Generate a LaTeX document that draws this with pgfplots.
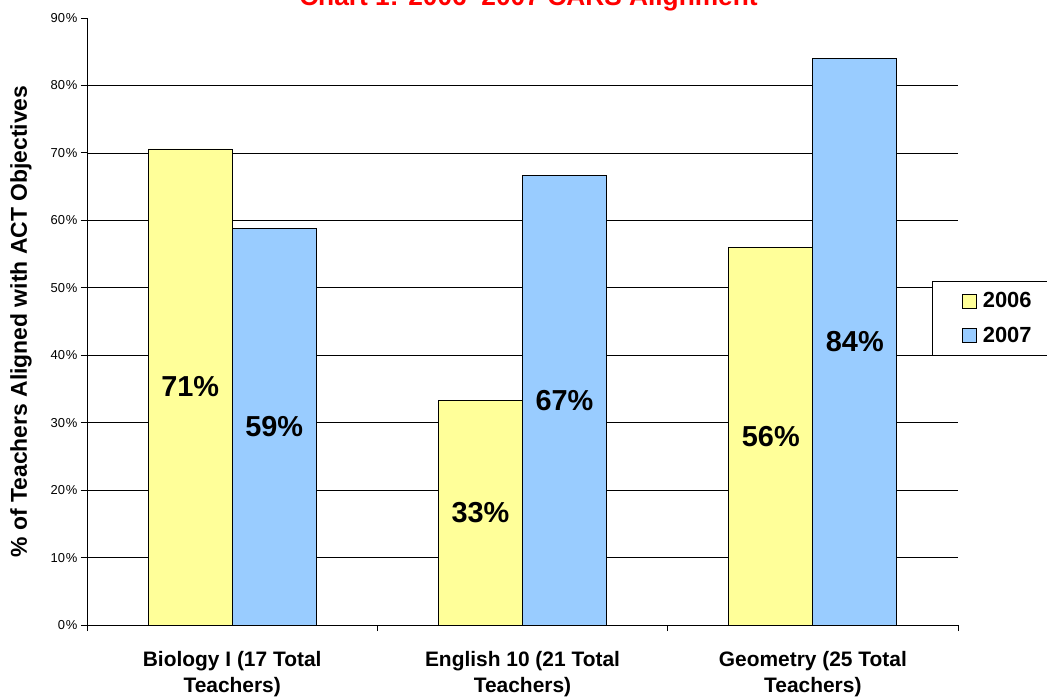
\documentclass[border=0pt]{standalone}
\usepackage{fontspec}
\setmainfont{Liberation Sans}
\usepackage{pgfplots}
\usepackage{pgfplotstable}
\pgfplotsset{compat=1.18}
\pgfplotsset{sqlegend/.style={legend image code/.code={\draw[##1, line width=0.6bp] (0bp,-7bp) rectangle (14bp,7bp);}}}
\definecolor{y06}{RGB}{255,255,153}
\definecolor{b07}{RGB}{153,204,255}
\pgfplotstableread{
x v06 v07 l06 l07
0 70.59 58.82 71 59
1 33.33 66.67 33 67
2 56.00 84.00 56 84
}\data
\begin{document}
\begin{tikzpicture}
\begin{axis}[
  at={(0,0)}, anchor=south west,
  scale only axis, width=871bp, height=607bp,
  xmin=-0.5, xmax=2.5, ymin=0, ymax=90,
  axis x line*=bottom, axis y line*=left,
  axis line style={-, black, line width=0.8bp},
  tick align=outside, major tick length=6bp,
  tick style={black, line width=0.8bp},
  ytick={0,10,...,90},
  yticklabels={0\kern1bp\%,10\kern1bp\%,20\kern1bp\%,30\kern1bp\%,40\kern1bp\%,50\kern1bp\%,60\kern1bp\%,70\kern1bp\%,80\kern1bp\%,90\kern1bp\%},
  extra y ticks={10,20,...,80},
  extra y tick labels={,,,,,,,},
  extra y tick style={grid=major, major tick length=6bp},
  major grid style={black, line width=0.6bp},
  xtick={-0.5,0.5,1.5,2.5},
  xticklabels={,,,},
  extra x ticks={0,1,2},
  extra x tick labels={{Biology I (17 Total\\Teachers)},{English 10 (21 Total\\Teachers)},{Geometry (25 Total\\Teachers)}},
  extra x tick style={grid=none, major tick length=0pt, xticklabel style={yshift=-23bp}},
  yticklabel style={font=\fontsize{13}{15}\selectfont},
  xticklabel style={font=\bfseries\fontsize{21}{26}\selectfont, align=center},
  ylabel={\% of Teachers Aligned with ACT Objectives},
  ylabel style={at={(rel axis cs:0,0.5)}, anchor=center, yshift=66bp, font=\bfseries\fontsize{23}{26}\selectfont},
  title={Chart 1: 2006--2007 CARS Alignment},
  title style={at={(rel axis cs:0.5,1)}, anchor=base, yshift=7bp, xshift=6bp, font=\bfseries\fontsize{26.4}{30}\selectfont, text=red},
  legend style={at={(rel axis cs:0.970,0.5667)}, anchor=north west, draw=black, line width=0.8bp,
    font=\bfseries\fontsize{22}{24}\selectfont, inner xsep=30bp, inner ysep=9bp, row sep=14bp},
  legend cell align=left,
]
\addplot[ybar, bar width=84bp, bar shift=-42bp, fill=y06, draw=black, line width=0.8bp, sqlegend]
  table[x=x, y=v06]{\data};
\addplot[ybar, bar width=84bp, bar shift=42bp, fill=b07, draw=black, line width=0.8bp, sqlegend]
  table[x=x, y=v07]{\data};
\addplot[ybar, bar width=84bp, bar shift=-42bp, draw=none, fill=none, forget plot,
  nodes near coords={\pgfplotspointmeta\%}, point meta=explicit symbolic,
  every node near coord/.append style={anchor=center, xshift=-42bp, font=\bfseries\fontsize{29}{32}\selectfont}]
  table[x=x, y expr=\thisrow{v06}/2, meta=l06]{\data};
\addplot[ybar, bar width=84bp, bar shift=42bp, draw=none, fill=none, forget plot,
  nodes near coords={\pgfplotspointmeta\%}, point meta=explicit symbolic,
  every node near coord/.append style={anchor=center, xshift=42bp, font=\bfseries\fontsize{29}{32}\selectfont}]
  table[x=x, y expr=\thisrow{v07}/2, meta=l07]{\data};
\legend{\hspace{4bp}2006,\hspace{4bp}2007}
\end{axis}
\pgfresetboundingbox
\path[use as bounding box] (-87bp,-73bp) rectangle (960bp,625bp);
\end{tikzpicture}
\end{document}
